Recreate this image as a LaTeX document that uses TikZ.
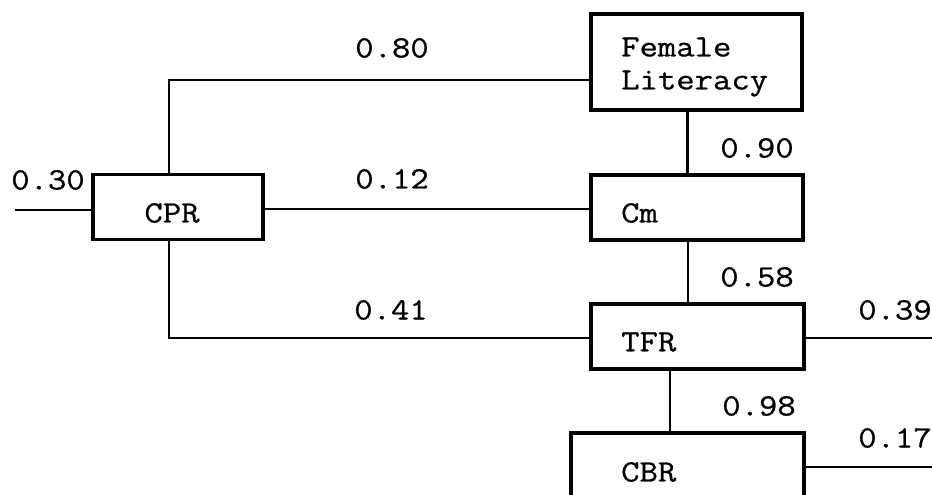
\documentclass[tikz,border=0pt]{standalone}
\usepackage{fontspec}
\newfontfamily\courlike[FakeStretch=1.15,FakeBold=0.8]{Latin Modern Mono}
\begin{document}
\begin{tikzpicture}[x=1pt,y=-1pt,
  box/.style={draw, line width=3.2pt, minimum width=#1, inner sep=0pt},
  conn/.style={line width=2.8pt},
  lab/.style={font=\fontsize{31}{34}\selectfont\courlike, inner sep=0pt},
  txt/.style={font=\fontsize{31}{34}\selectfont\courlike, inner sep=0pt, anchor=west, align=left}]
\useasboundingbox (0,0) rectangle (932,495);
\clip (0,0) rectangle (932,495);
% boxes
\node[box=170pt, minimum height=65pt] (cpr) at (178,207) {};
\node[box=211pt, minimum height=96pt] (fl) at (696.5,62) {};
\node[box=212pt, minimum height=65pt] (cm) at (697,207.5) {};
\node[box=213pt, minimum height=65pt] (tfr) at (697.5,336.5) {};
\node[box=233pt, minimum height=80pt] (cbr) at (687.5,473) {};
% box texts
\node[lab] (cprt) at (172,213) {CPR};
\node[txt] (flt) at (621,67) {Female\\[-1pt]Literacy};
\node[txt] (cmt) at (621,213) {Cm};
\node[txt] (tfrt) at (621,342) {TFR};
\node[txt] (cbrt) at (621,472) {CBR};
% free ends
\coordinate (in) at (15,210);
\coordinate (out1) at (932,338);
\coordinate (out2) at (932,467);
% connectors
\draw[conn] (in) -- (in -| cpr.west);
\draw[conn] ([xshift=-9pt]cpr.north) |- ([yshift=-18pt]fl.west);
\draw[conn] ([yshift=-2pt]cpr.east) -- ([yshift=-2pt]cpr.east -| cm.west);
\draw[conn] ([xshift=-9pt]cpr.south) |- ([yshift=-1.5pt]tfr.west);
\draw[conn] ([xshift=-9pt]fl.south) -- ([xshift=-9pt]fl.south |- cm.north);
\draw[conn] ([xshift=-9pt]cm.south) -- ([xshift=-9pt]cm.south |- tfr.north);
\draw[conn] ([xshift=-27.5pt]tfr.south) -- ([xshift=-27.5pt]tfr.south |- cbr.north);
\draw[conn] (out1 -| tfr.east) -- (out1);
\draw[conn] (out2 -| cbr.east) -- (out2);
% coefficients
\node[lab] (l30) at (48,180) {0.30};
\node[lab] (l80) at (392,48) {0.80};
\node[lab] (l12) at (392,179) {0.12};
\node[lab] (l41) at (391,310) {0.41};
\node[lab] (l90) at (757,148) {0.90};
\node[lab] (l58) at (757,277) {0.58};
\node[lab] (l98) at (759,406) {0.98};
\node[lab] (l39) at (895,310) {0.39};
\node[lab] (l17) at (895,438) {0.17};
\end{tikzpicture}
\end{document}
